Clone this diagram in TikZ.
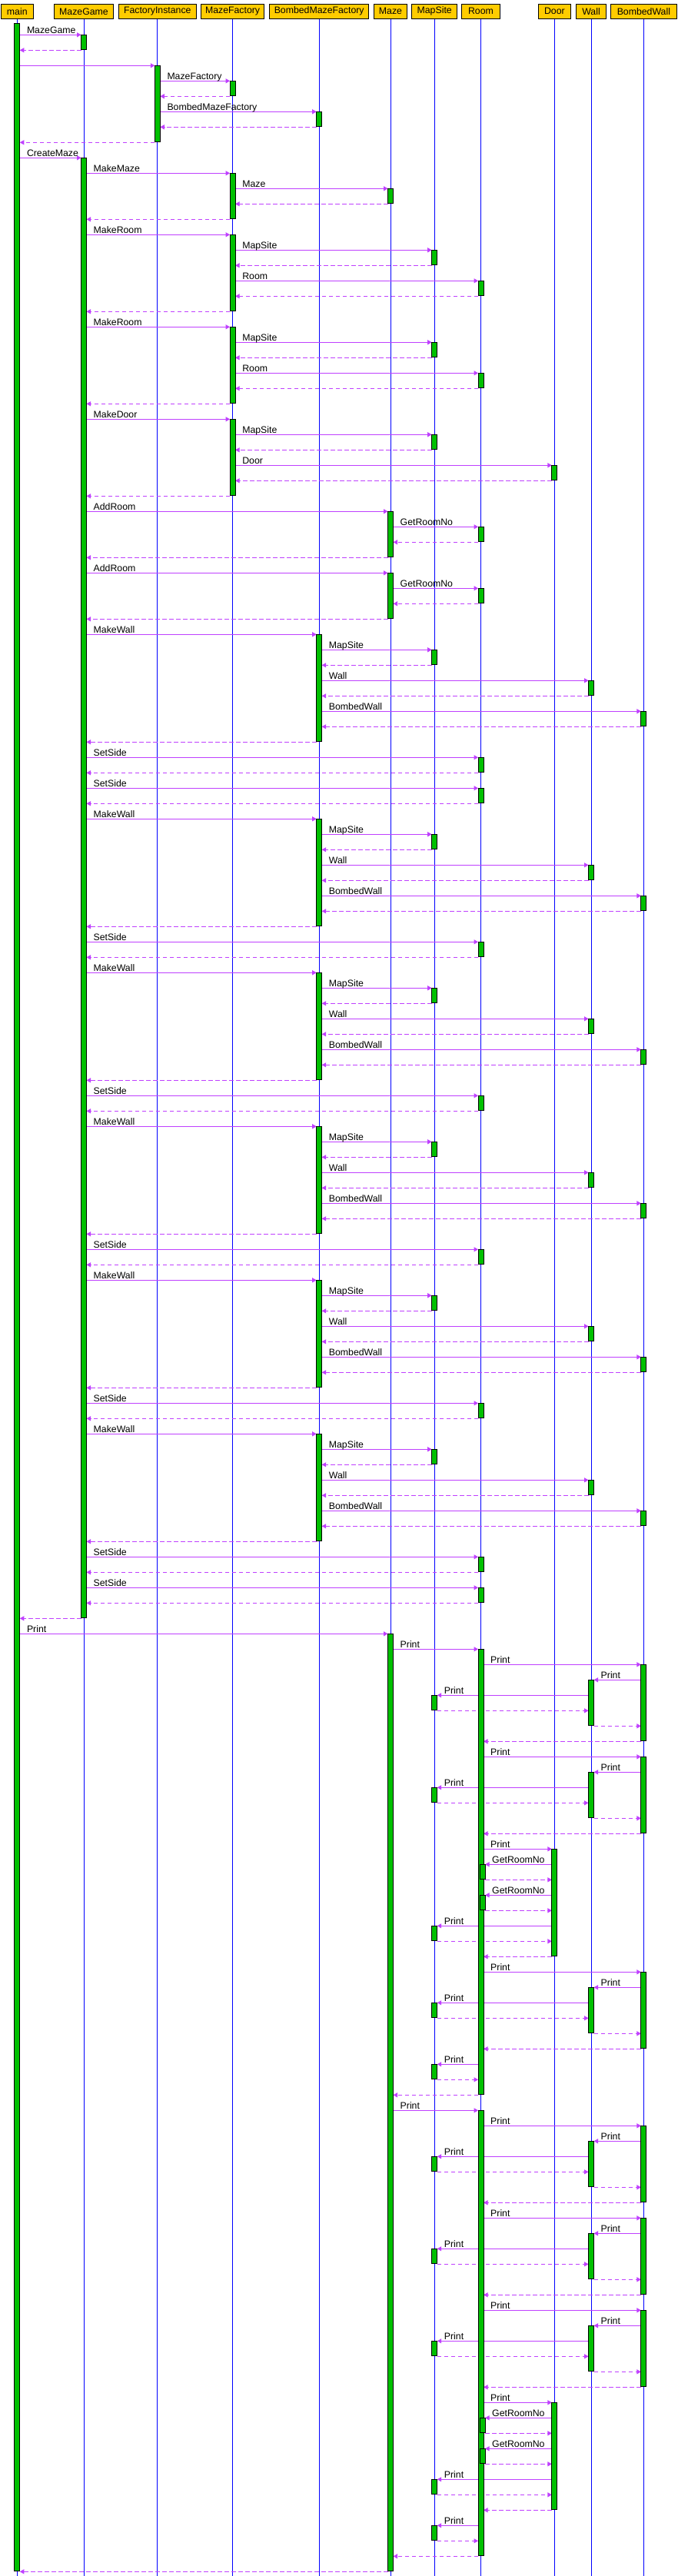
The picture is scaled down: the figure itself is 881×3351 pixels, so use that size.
\documentclass[tikz,border=0pt]{standalone}
\usepackage{fontspec}
\setmainfont{Liberation Sans}
\usetikzlibrary{arrows.meta}
\definecolor{msgc}{RGB}{191,64,255}
\definecolor{actg}{RGB}{0,192,0}
\definecolor{hdry}{RGB}{255,204,0}
\pgfdeclarelayer{acts}
\pgfsetlayers{main,acts}
\def\Xmain{22.3}
\def\Xmg{109}
\def\Xfi{204.8}
\def\Xmf{302.6}
\def\Xbmf{415.2}
\def\Xmaze{508}
\def\Xms{565.2}
\def\Xroom{625.5}
\def\Xroomn{627.5}
\def\Xdoor{721.4}
\def\Xwall{769}
\def\Xbw{837.4}
\tikzset{
 life/.style={draw=blue, line width=1pt},
 call/.style={draw=msgc, line width=1pt, -{Triangle[length=5.5pt,width=6pt]}},
 ret/.style={call, dash pattern=on 5.5pt off 3.5pt},
 actbox/.style={fill=actg, draw=black, line width=1pt},
 hdr/.style={draw=black, fill=hdry, line width=1pt, inner sep=0pt, minimum height=19pt, font=\fontsize{12.3}{14}\selectfont},
 lbl/.style={anchor=base west, inner sep=0pt, font=\fontsize{12.3}{14}\selectfont},
}
\newcommand\seqmsg[5]{%
  \pgfmathsetmacro\sqy{45.3+20*(#4)}%
  \pgfmathtruncatemacro\sqr{#4}%
  \pgfmathsetmacro\sqs{ifthenelse(#3>#2,1,-1)}%
  \pgfmathsetmacro\sqa{#2+3.5*\sqs}%
  \pgfmathsetmacro\sqb{#3-3.5*\sqs}%
  \pgfmathsetmacro\sql{min(\sqa,\sqb)+9}%
  \pgfmathsetmacro\sqt{\sqy-1.5}%
  \coordinate (S\sqr) at (\sqa,\sqy);
  \coordinate (T\sqr) at (\sqb,\sqy);
  \draw[#1] (S\sqr) -- (T\sqr);
  \ifx&#5&\else\node[lbl] (L\sqr) at (\sql,\sqt) {#5};\fi
}
\newcommand\seqact[3]{%
  \pgfmathsetmacro\sqya{45.3+20*(#2)}%
  \pgfmathsetmacro\sqyb{44.3+20*(#3)}%
  \begin{pgfonlayer}{acts}
  \draw[actbox] (#1-3.5,\sqya) rectangle (#1+3.5,\sqyb);
  \end{pgfonlayer}
}
\newcommand\bwblock[1]{%
  \seqact{\Xbw}{#1}{#1+5}%
  \seqact{\Xwall}{#1+1}{#1+4}%
  \seqact{\Xms}{#1+2}{#1+3}%
  \seqmsg{call}{\Xroom}{\Xbw}{#1}{Print}%
  \seqmsg{call}{\Xbw}{\Xwall}{#1+1}{Print}%
  \seqmsg{call}{\Xwall}{\Xms}{#1+2}{Print}%
  \seqmsg{ret}{\Xms}{\Xwall}{#1+3}{}%
  \seqmsg{ret}{\Xwall}{\Xbw}{#1+4}{}%
  \seqmsg{ret}{\Xbw}{\Xroom}{#1+5}{}%
}
\newcommand\doorblock[1]{%
  \seqact{\Xdoor}{#1}{#1+7}%
  \seqact{\Xroomn}{#1+1}{#1+2}%
  \seqact{\Xroomn}{#1+3}{#1+4}%
  \seqact{\Xms}{#1+5}{#1+6}%
  \seqmsg{call}{\Xroom}{\Xdoor}{#1}{Print}%
  \seqmsg{call}{\Xdoor}{\Xroomn}{#1+1}{GetRoomNo}%
  \seqmsg{ret}{\Xroomn}{\Xdoor}{#1+2}{}%
  \seqmsg{call}{\Xdoor}{\Xroomn}{#1+3}{GetRoomNo}%
  \seqmsg{ret}{\Xroomn}{\Xdoor}{#1+4}{}%
  \seqmsg{call}{\Xdoor}{\Xms}{#1+5}{Print}%
  \seqmsg{ret}{\Xms}{\Xdoor}{#1+6}{}%
  \seqmsg{ret}{\Xdoor}{\Xroom}{#1+7}{}%
}
\newcommand\wallblock[1]{%
  \seqact{\Xbmf}{#1}{#1+7}%
  \seqact{\Xms}{#1+1}{#1+2}%
  \seqact{\Xwall}{#1+3}{#1+4}%
  \seqact{\Xbw}{#1+5}{#1+6}%
  \seqmsg{call}{\Xmg}{\Xbmf}{#1}{MakeWall}%
  \seqmsg{call}{\Xbmf}{\Xms}{#1+1}{MapSite}%
  \seqmsg{ret}{\Xms}{\Xbmf}{#1+2}{}%
  \seqmsg{call}{\Xbmf}{\Xwall}{#1+3}{Wall}%
  \seqmsg{ret}{\Xwall}{\Xbmf}{#1+4}{}%
  \seqmsg{call}{\Xbmf}{\Xbw}{#1+5}{BombedWall}%
  \seqmsg{ret}{\Xbw}{\Xbmf}{#1+6}{}%
  \seqmsg{ret}{\Xbmf}{\Xmg}{#1+7}{}%
}
\newcommand\mkblock[4]{%
  \seqact{\Xmf}{#1}{#1+5}%
  \seqact{\Xms}{#1+1}{#1+2}%
  \seqact{#3}{#1+3}{#1+4}%
  \seqmsg{call}{\Xmg}{\Xmf}{#1}{#2}%
  \seqmsg{call}{\Xmf}{\Xms}{#1+1}{MapSite}%
  \seqmsg{ret}{\Xms}{\Xmf}{#1+2}{}%
  \seqmsg{call}{\Xmf}{#3}{#1+3}{#4}%
  \seqmsg{ret}{#3}{\Xmf}{#1+4}{}%
  \seqmsg{ret}{\Xmf}{\Xmg}{#1+5}{}%
}
\newcommand\addroomblock[1]{%
  \seqact{\Xmaze}{#1}{#1+3}%
  \seqact{\Xroom}{#1+1}{#1+2}%
  \seqmsg{call}{\Xmg}{\Xmaze}{#1}{AddRoom}%
  \seqmsg{call}{\Xmaze}{\Xroom}{#1+1}{GetRoomNo}%
  \seqmsg{ret}{\Xroom}{\Xmaze}{#1+2}{}%
  \seqmsg{ret}{\Xmaze}{\Xmg}{#1+3}{}%
}
\newcommand\sideblock[1]{%
  \seqact{\Xroom}{#1}{#1+1}%
  \seqmsg{call}{\Xmg}{\Xroom}{#1}{SetSide}%
  \seqmsg{ret}{\Xroom}{\Xmg}{#1+1}{}%
}
\begin{document}
\begin{tikzpicture}[x=1pt,y=-1pt]
\useasboundingbox (0,0) rectangle (881,3351);
% participants
\node[hdr,minimum width=42.6pt] (hmain) at (\Xmain,14.8) {main};
\node[hdr,minimum width=77.5pt] (hmg) at (\Xmg,14.8) {MazeGame};
\node[hdr,minimum width=101.4pt] (hfi) at (\Xfi,14.8) {FactoryInstance};
\node[hdr,minimum width=82.6pt] (hmf) at (\Xmf,14.8) {MazeFactory};
\node[hdr,minimum width=129.5pt] (hbmf) at (\Xbmf,14.8) {BombedMazeFactory};
\node[hdr,minimum width=43pt] (hmaze) at (\Xmaze,14.8) {Maze};
\node[hdr,minimum width=59.4pt] (hms) at (\Xms,14.8) {MapSite};
\node[hdr,minimum width=49.3pt] (hroom) at (\Xroom,14.8) {Room};
\node[hdr,minimum width=41.9pt] (hdoor) at (\Xdoor,14.8) {Door};
\node[hdr,minimum width=39.8pt] (hwall) at (\Xwall,14.8) {Wall};
\node[hdr,minimum width=86.6pt] (hbw) at (\Xbw,14.8) {BombedWall};
% lifelines
\foreach \n/\xx in {main/\Xmain,mg/\Xmg,fi/\Xfi,mf/\Xmf,bmf/\Xbmf,maze/\Xmaze,ms/\Xms,room/\Xroom,door/\Xdoor,wall/\Xwall,bw/\Xbw}{
  \coordinate (e\n) at (\xx,3351);
  \draw[life] (h\n.south) -- (e\n);
}
% main activation
\begin{pgfonlayer}{acts}
\draw[actbox] (\Xmain-3.5,30.3) rectangle (\Xmain+3.5,3344.3);
\end{pgfonlayer}
% construction
\seqact{\Xmg}{0}{1}
\seqmsg{call}{\Xmain}{\Xmg}{0}{MazeGame}
\seqmsg{ret}{\Xmg}{\Xmain}{1}{}
\seqact{\Xfi}{2}{7}
\seqmsg{call}{\Xmain}{\Xfi}{2}{}
\seqact{\Xmf}{3}{4}
\seqmsg{call}{\Xfi}{\Xmf}{3}{MazeFactory}
\seqmsg{ret}{\Xmf}{\Xfi}{4}{}
\seqact{\Xbmf}{5}{6}
\seqmsg{call}{\Xfi}{\Xbmf}{5}{BombedMazeFactory}
\seqmsg{ret}{\Xbmf}{\Xfi}{6}{}
\seqmsg{ret}{\Xfi}{\Xmain}{7}{}
% CreateMaze
\seqact{\Xmg}{8}{103}
\seqmsg{call}{\Xmain}{\Xmg}{8}{CreateMaze}
\seqact{\Xmf}{9}{12}
\seqact{\Xmaze}{10}{11}
\seqmsg{call}{\Xmg}{\Xmf}{9}{MakeMaze}
\seqmsg{call}{\Xmf}{\Xmaze}{10}{Maze}
\seqmsg{ret}{\Xmaze}{\Xmf}{11}{}
\seqmsg{ret}{\Xmf}{\Xmg}{12}{}
\mkblock{13}{MakeRoom}{\Xroom}{Room}
\mkblock{19}{MakeRoom}{\Xroom}{Room}
\mkblock{25}{MakeDoor}{\Xdoor}{Door}
\addroomblock{31}
\addroomblock{35}
\wallblock{39}
\sideblock{47}
\sideblock{49}
\wallblock{51}
\sideblock{59}
\wallblock{61}
\sideblock{69}
\wallblock{71}
\sideblock{79}
\wallblock{81}
\sideblock{89}
\wallblock{91}
\sideblock{99}
\sideblock{101}
\seqmsg{ret}{\Xmg}{\Xmain}{103}{}
% Print
\seqact{\Xmaze}{104}{165}
\seqmsg{call}{\Xmain}{\Xmaze}{104}{Print}
\seqact{\Xroom}{105}{134}
\seqmsg{call}{\Xmaze}{\Xroom}{105}{Print}
\bwblock{106}
\bwblock{112}
\doorblock{118}
\bwblock{126}
\seqact{\Xms}{132}{133}
\seqmsg{call}{\Xroom}{\Xms}{132}{Print}
\seqmsg{ret}{\Xms}{\Xroom}{133}{}
\seqmsg{ret}{\Xroom}{\Xmaze}{134}{}
\seqact{\Xroom}{135}{164}
\seqmsg{call}{\Xmaze}{\Xroom}{135}{Print}
\bwblock{136}
\bwblock{142}
\bwblock{148}
\doorblock{154}
\seqact{\Xms}{162}{163}
\seqmsg{call}{\Xroom}{\Xms}{162}{Print}
\seqmsg{ret}{\Xms}{\Xroom}{163}{}
\seqmsg{ret}{\Xroom}{\Xmaze}{164}{}
\seqmsg{ret}{\Xmaze}{\Xmain}{165}{}
\end{tikzpicture}
\end{document}
